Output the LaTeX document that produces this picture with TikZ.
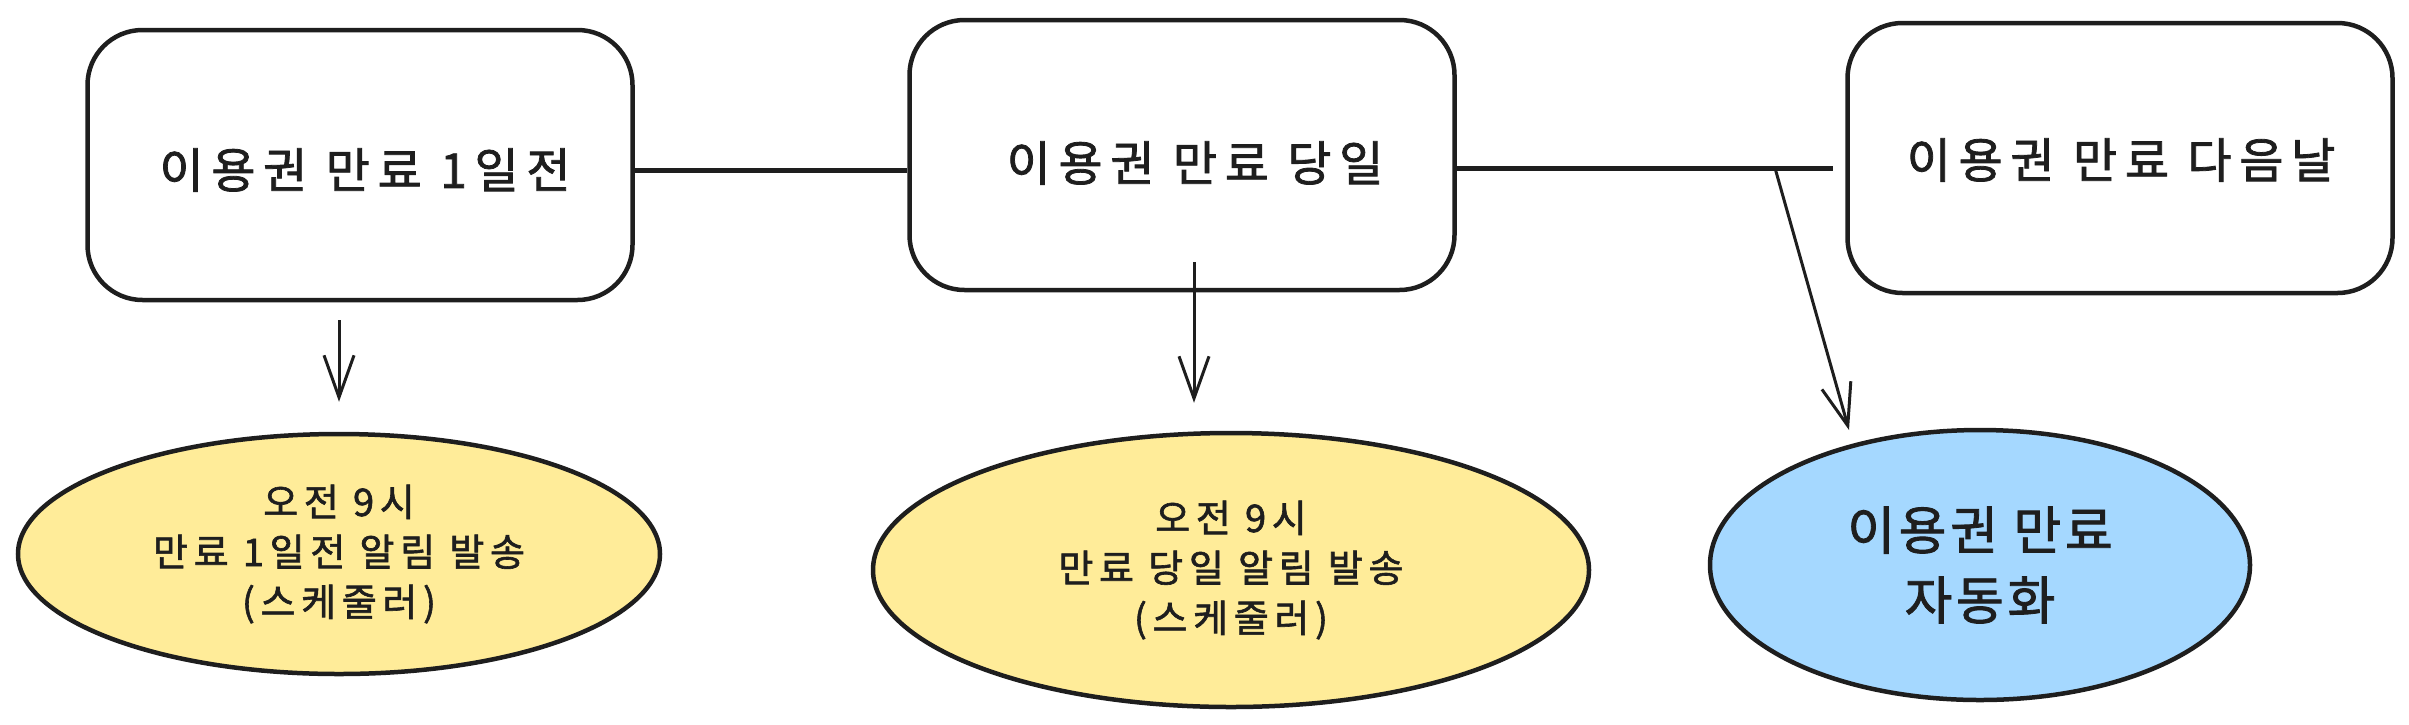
\documentclass[tikz,border=0pt]{standalone}
\usepackage{fontspec}
\setmainfont{Noto Sans CJK KR}[FakeBold=1.6]
\usetikzlibrary{shapes.geometric,arrows.meta}
\definecolor{ink}{HTML}{1E1E1E}
\definecolor{yel}{HTML}{FFEC99}
\definecolor{blu}{HTML}{A5D8FF}
\tikzset{
  box/.style={draw=ink, line width=4.5pt, rounded corners=55pt, fill=white,
    minimum width=545pt, minimum height=270pt, inner sep=0pt},
  boxtext/.style={text=ink, inner sep=0pt, font=\fontsize{48}{56}\selectfont\addfontfeatures{LetterSpace=16}},
  oval/.style={ellipse, draw=ink, line width=4.5pt, inner sep=0pt, align=center, text=ink},
  smalltext/.style={font=\fontsize{38}{50}\selectfont\addfontfeatures{LetterSpace=15}},
  bigtext/.style={font=\fontsize{52}{70}\selectfont\addfontfeatures{LetterSpace=7}},
  link/.style={draw=ink, line width=5pt},
  arr/.style={draw=ink, line width=3pt, -{Straight Barb[length=42pt,width=30pt]}}
}
\begin{document}
\begin{tikzpicture}[x=1pt,y=-1pt]
\useasboundingbox (0,0) rectangle (2409,724);

% boxes
\node[box] (b1) at (360,165) {};
\node[box] (b2) at (1182,155) {};
\node[box] (b3) at (2120,158) {};
\node[boxtext] (t1) at (365,170) {이용권 만료 1일전};
\node[boxtext] (t2) at (1195,163) {이용권 만료 당일};
\node[boxtext] (t3) at (2121,160) {이용권 만료 다음날};

% ellipses
\node[oval, fill=yel, smalltext, minimum width=642pt, minimum height=240pt] (e1) at (339,554)
  {오전 9시\\만료 1일전 알림 발송\\(스케줄러)};
\node[oval, fill=yel, smalltext, minimum width=716pt, minimum height=274pt] (e2) at (1231,570)
  {오전 9시\\만료 당일 알림 발송\\(스케줄러)};
\node[oval, fill=blu, bigtext, minimum width=540pt, minimum height=270pt] (e3) at (1980,565)
  {이용권 만료\\자동화};

% horizontal links
\draw[link] (b1.east |- 0,170) -- (b2.west |- 0,170);
\coordinate (j) at (1775,168);
\coordinate (k) at (1833,168);
\draw[link] (b2.east |- j) -- (k);

% arrows
\draw[arr, shorten <=18pt, shorten >=30pt] (b1.south -| e1.north) -- (e1.north);
\coordinate (a2) at (1194,288);
\draw[arr, shorten <=-26pt, shorten >=28pt] (a2) -- (a2 |- e2.north);
\coordinate (tip3) at (1849,430);
\draw[arr] (j) -- (tip3);
\end{tikzpicture}
\end{document}
